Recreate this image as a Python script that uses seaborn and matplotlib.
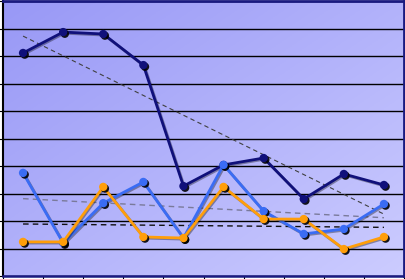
import numpy as np
import pandas as pd
import matplotlib
matplotlib.use("Agg")
import matplotlib.pyplot as plt
import matplotlib.patheffects as pe
from matplotlib.colors import LinearSegmentedColormap
import seaborn as sns

categories = list(range(1, 11))
navy_values = [8.11, 8.87, 8.80, 7.67, 3.27, 4.04, 4.29, 2.80, 3.71, 3.31]
blue_values = [3.75, 1.20, 2.65, 3.42, 1.38, 4.04, 2.36, 1.53, 1.71, 2.62]
orange_values = [1.24, 1.24, 3.24, 1.42, 1.38, 3.24, 2.07, 2.07, 0.98, 1.42]

series = {"Navy": navy_values, "Blue": blue_values, "Orange": orange_values}
colors = {"Navy": "#10107A", "Blue": "#3A6CF4", "Orange": "#FF9E0A"}
trend_styles = {"Navy": ("#404040", 0.8), "Blue": ("#7A7A9A", 1.0), "Orange": ("#111111", 1.0)}

sns.set_theme(style="white")
fig = plt.figure(figsize=(4.06, 2.79), dpi=100)
ax = fig.add_axes([3 / 406, 3 / 279, 401 / 406, 275 / 279])

# gradient background
cmap = LinearSegmentedColormap.from_list("bg", ["#9898F6", "#CCCCFF"])
g = np.add.outer(np.linspace(0, 1, 200), np.linspace(0, 1, 200)) / 2
ax.imshow(g, cmap=cmap, extent=[0, 1, 0, 1], transform=ax.transAxes,
          aspect="auto", origin="upper", zorder=0)

x = np.arange(len(categories))
rows = []
for name, vals in series.items():
    for xi, v in zip(x, vals):
        rows.append({"x": xi, "y": v, "series": name})
df = pd.DataFrame(rows)

# trendlines
for name, vals in series.items():
    m, b = np.polyfit(x, vals, 1)
    tdf = pd.DataFrame({"x": x, "y": m * x + b})
    c, lw = trend_styles[name]
    sns.lineplot(data=tdf, x="x", y="y", ax=ax, color=c, lw=lw,
                 linestyle=(0, (4, 3)), zorder=3, legend=False)

line_shadow = [pe.SimpleLineShadow(offset=(0.8, -0.8), shadow_color="black", alpha=0.35), pe.Normal()]
mark_shadow = [pe.SimplePatchShadow(offset=(1.2, -1.2), shadow_rgbFace="black", alpha=0.9), pe.Normal()]
z = 4
for name in ["Navy", "Blue", "Orange"]:
    sub = df[df["series"] == name]
    sns.lineplot(data=sub, x="x", y="y", ax=ax, color=colors[name], lw=2.0,
                 zorder=z, legend=False, path_effects=line_shadow)
    sns.scatterplot(data=sub, x="x", y="y", ax=ax, color=colors[name], s=36,
                    linewidth=0, zorder=z + 0.5, legend=False)
    ax.collections[-1].set_path_effects(mark_shadow)
    z += 1

ax.set_xlim(-0.5, 9.5)
ax.set_ylim(0, 10)
ax.set_yticks(np.arange(0, 11, 1))
ax.set_xticks(np.arange(-0.5, 10, 1))
ax.set_xticklabels([])
ax.set_yticklabels([])
ax.tick_params(axis="both", direction="out", length=3, width=0.8, color="black",
               left=True, bottom=True)
ax.grid(axis="y", color="black", lw=1.0, zorder=1)
ax.set_axisbelow(True)
ax.set_xlabel("")
ax.set_ylabel("")
ax.spines["left"].set_color("black")
ax.spines["left"].set_linewidth(1.5)
ax.spines["bottom"].set_color("#1A1A80")
ax.spines["bottom"].set_linewidth(1.8)
for s in ["top", "right"]:
    ax.spines[s].set_color("#1A1A80")
    ax.spines[s].set_linewidth(2.0)

fig.savefig("out.png", dpi=100)
